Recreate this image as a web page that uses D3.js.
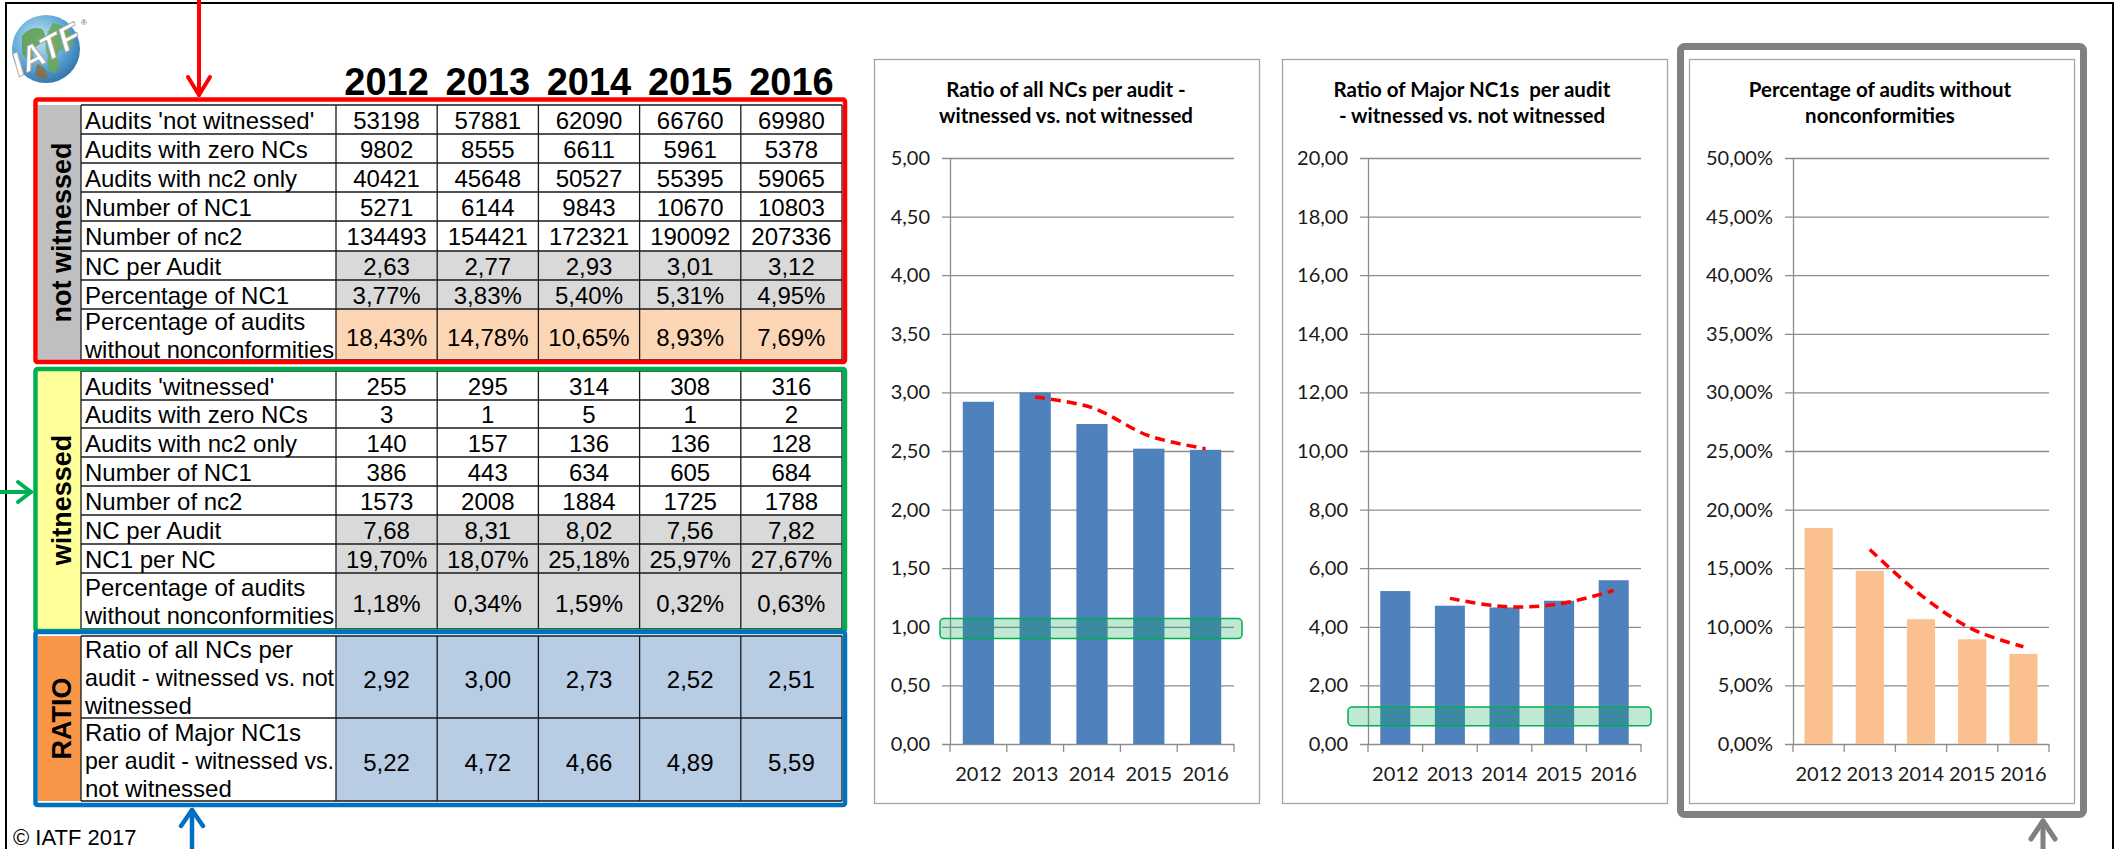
<!DOCTYPE html>
<html>
<head>
<meta charset="utf-8">
<script src="https://cdn.jsdelivr.net/npm/d3@7"></script>
<style>
  body { margin: 0; background: #fff; }
  svg { display: block; }
</style>
</head>
<body>
<div id="chart"></div>
<script>
// ---- values ----
const years = [2012, 2013, 2014, 2015, 2016];

// not witnessed audits
const nwAudits = [53198, 57881, 62090, 66760, 69980];
const nwZeroNC = [9802, 8555, 6611, 5961, 5378];
const nwNc2Only = [40421, 45648, 50527, 55395, 59065];
const nwNC1 = [5271, 6144, 9843, 10670, 10803];
const nwNc2 = [134493, 154421, 172321, 190092, 207336];
const nwNcPerAudit = [2.63, 2.77, 2.93, 3.01, 3.12];
const nwPctNC1 = [3.77, 3.83, 5.40, 5.31, 4.95];
const nwPctZero = [18.43, 14.78, 10.65, 8.93, 7.69];

// witnessed audits
const wAudits = [255, 295, 314, 308, 316];
const wZeroNC = [3, 1, 5, 1, 2];
const wNc2Only = [140, 157, 136, 136, 128];
const wNC1 = [386, 443, 634, 605, 684];
const wNc2 = [1573, 2008, 1884, 1725, 1788];
const wNcPerAudit = [7.68, 8.31, 8.02, 7.56, 7.82];
const wNC1perNC = [19.70, 18.07, 25.18, 25.97, 27.67];
const wPctZero = [1.18, 0.34, 1.59, 0.32, 0.63];

// ratios witnessed vs. not witnessed
const ratioAll = [2.92, 3.00, 2.73, 2.52, 2.51];
const ratioMajor = [5.22, 4.72, 4.66, 4.89, 5.59];

// red dashed trend lines (no value for 2012)
const ratioAllTrend = [null, 2.96, 2.87, 2.63, 2.52];
const ratioMajorTrend = [null, 4.97, 4.69, 4.78, 5.24];
const pctZeroTrend = [null, 16.6, 12.7, 9.8, 8.3];

// green highlight bands (value range) on the ratio charts
const ratioAllBand = [0.90, 1.07];
const ratioMajorBand = [0.62, 1.26];

// y axis tick values
const ratioAllTicks = [0, 0.5, 1, 1.5, 2, 2.5, 3, 3.5, 4, 4.5, 5];
const ratioMajorTicks = [0, 2, 4, 6, 8, 10, 12, 14, 16, 18, 20];
const pctTicks = [0, 5, 10, 15, 20, 25, 30, 35, 40, 45, 50];

// row labels
const nwLabels = [["Audits 'not witnessed'"], ["Audits with zero NCs"], ["Audits with nc2 only"],
  ["Number of NC1"], ["Number of nc2"], ["NC per Audit"], ["Percentage of NC1"],
  ["Percentage of audits", "without nonconformities"]];
const wLabels = [["Audits 'witnessed'"], ["Audits with zero NCs"], ["Audits with nc2 only"],
  ["Number of NC1"], ["Number of nc2"], ["NC per Audit"], ["NC1 per NC"],
  ["Percentage of audits", "without nonconformities"]];
const ratioLabels = [["Ratio of all NCs per", "audit - witnessed vs. not", "witnessed"],
  ["Ratio of Major NC1s", "per audit - witnessed vs.", "not witnessed"]];

const chartTitles = [
  ["Ratio of all NCs per audit -", "witnessed vs. not witnessed"],
  ["Ratio of Major NC1s  per audit", "- witnessed vs. not witnessed"],
  ["Percentage of audits without", "nonconformities"]
];

// ---- setup ----
const W = 2116, H = 849;
const ARIAL = "'Liberation Sans', Arial, sans-serif";
const CALIBRI = "Lato, 'Open Sans', sans-serif";

const loc = d3.formatLocale({ decimal: ",", thousands: ".", grouping: [3], currency: ["", ""] });
const fInt = d => String(d);
const f2 = loc.format(".2f");
const fPct = d => f2(d) + "%";

const svg = d3.select("#chart").append("svg")
  .attr("width", W)
  .attr("height", H);

// outer black frame (open at the bottom)
svg.append("path")
  .attr("d", `M6,${H} V3 H2113 V${H}`)
  .attr("fill", "none")
  .attr("stroke", "#000")
  .attr("stroke-width", 2);

// ---- logo ----
const logo = svg.append("g").attr("transform", "translate(46,49)");
const grad = svg.append("defs").append("radialGradient").attr("id", "globe")
  .attr("cx", "40%").attr("cy", "35%").attr("r", "70%");
grad.append("stop").attr("offset", "0%").attr("stop-color", "#c9e6f5");
grad.append("stop").attr("offset", "60%").attr("stop-color", "#5aa7d6");
grad.append("stop").attr("offset", "100%").attr("stop-color", "#2f6fa8");
logo.append("circle").attr("r", 34).attr("fill", "url(#globe)");
logo.append("path").attr("d", "M-24,-13 q9,-11 20,-7 q7,9 -2,15 q-9,4 -7,15 q-7,4 -11,-7 z")
  .attr("fill", "#5f9e4a").attr("opacity", 0.85);
logo.append("path").attr("d", "M7,-26 q13,2 20,13 q2,11 -7,13 q-7,-2 -9,7 q4,11 -2,18 q-9,-4 -7,-18 q-7,-15 5,-33 z")
  .attr("fill", "#6aa84f").attr("opacity", 0.85);
logo.append("path").attr("d", "M-9,15 q9,2 11,13 q-7,4 -13,-2 z")
  .attr("fill", "#8b6b3d").attr("opacity", 0.8);
logo.append("text")
  .attr("transform", "rotate(-28) skewX(-12)")
  .attr("text-anchor", "middle")
  .attr("y", 12)
  .attr("font-family", ARIAL)
  .attr("font-weight", "bold")
  .attr("font-size", 34)
  .attr("fill", "#fff")
  .attr("stroke", "#9a9a9a")
  .attr("stroke-width", 0.8)
  .text("IATF");
logo.append("text").attr("x", 35).attr("y", -24)
  .attr("font-size", 8).attr("font-family", ARIAL).attr("fill", "#666").text("®");

// ---- table ----
const colX = d3.scaleBand().domain(years).range([336, 842]);
const sideX0 = 38, labelX0 = 81, tableX1 = 842;
const TFONT = 24;

// year headers
svg.append("g").selectAll("text")
  .data(years)
  .join("text")
  .attr("x", d => colX(d) + colX.bandwidth() / 2)
  .attr("y", 95)
  .attr("text-anchor", "middle")
  .attr("font-family", ARIAL)
  .attr("font-weight", "bold")
  .attr("font-size", 38)
  .text(d => d);

function tableSection(rows, edges, sideLabel, sideFill) {
  const g = svg.append("g");
  const top = edges[0], bottom = edges[edges.length - 1];

  // cell fills
  rows.forEach((r, i) => {
    g.selectAll(null)
      .data(r.values)
      .join("rect")
      .attr("x", (d, j) => colX(years[j]))
      .attr("y", edges[i])
      .attr("width", colX.bandwidth())
      .attr("height", edges[i + 1] - edges[i])
      .attr("fill", r.fill);
  });

  // side column
  g.append("rect")
    .attr("x", sideX0).attr("y", top)
    .attr("width", labelX0 - sideX0).attr("height", bottom - top)
    .attr("fill", sideFill);
  g.append("text")
    .attr("transform", `translate(71,${(top + bottom) / 2}) rotate(-90)`)
    .attr("text-anchor", "middle")
    .attr("font-family", ARIAL)
    .attr("font-weight", "bold")
    .attr("font-size", 27)
    .text(sideLabel);

  // grid lines
  const grid = g.append("g").attr("stroke", "#1a1a1a").attr("stroke-width", 1.3);
  edges.forEach(e => {
    grid.append("line").attr("x1", labelX0).attr("x2", tableX1).attr("y1", e).attr("y2", e);
  });
  [labelX0, ...years.map(y => colX(y)), tableX1].forEach(x => {
    grid.append("line").attr("x1", x).attr("x2", x).attr("y1", top).attr("y2", bottom);
  });

  // labels and values
  rows.forEach((r, i) => {
    const cy = (edges[i] + edges[i + 1]) / 2;
    const n = r.label.length;
    g.append("g").selectAll("text")
      .data(r.label)
      .join("text")
      .attr("x", labelX0 + 4)
      .attr("y", (d, k) => cy + 9 + (k - (n - 1) / 2) * 28)
      .attr("font-family", ARIAL)
      .attr("font-size", TFONT)
      .text(d => d)
      .each(function () {
        // keep long labels inside their cell
        const maxW = colX(years[0]) - labelX0 - 6;
        if (this.getComputedTextLength() > maxW) {
          d3.select(this).attr("textLength", maxW).attr("lengthAdjust", "spacingAndGlyphs");
        }
      });
    g.append("g").selectAll("text")
      .data(r.values)
      .join("text")
      .attr("x", (d, j) => colX(years[j]) + colX.bandwidth() / 2)
      .attr("y", cy + 9 + (n > 1 ? 2 : 0))
      .attr("text-anchor", "middle")
      .attr("font-family", ARIAL)
      .attr("font-size", TFONT)
      .text(d => r.fmt(d))
      .each(function () {
        const maxW = colX.bandwidth() - 4;
        if (this.getComputedTextLength() > maxW) {
          d3.select(this).attr("textLength", maxW).attr("lengthAdjust", "spacingAndGlyphs");
        }
      });
  });
}

const WHITE = "#ffffff", GRAY = "#d9d9d9", PEACH = "#fcd5b4", BLUE = "#b8cce4";

tableSection([
  { label: nwLabels[0], values: nwAudits, fmt: fInt, fill: WHITE },
  { label: nwLabels[1], values: nwZeroNC, fmt: fInt, fill: WHITE },
  { label: nwLabels[2], values: nwNc2Only, fmt: fInt, fill: WHITE },
  { label: nwLabels[3], values: nwNC1, fmt: fInt, fill: WHITE },
  { label: nwLabels[4], values: nwNc2, fmt: fInt, fill: WHITE },
  { label: nwLabels[5], values: nwNcPerAudit, fmt: f2, fill: GRAY },
  { label: nwLabels[6], values: nwPctNC1, fmt: fPct, fill: GRAY },
  { label: nwLabels[7], values: nwPctZero, fmt: fPct, fill: PEACH }
], [105, 134, 163, 192, 221, 251, 280, 309, 360], "not witnessed", "#bfbfbf");

tableSection([
  { label: wLabels[0], values: wAudits, fmt: fInt, fill: WHITE },
  { label: wLabels[1], values: wZeroNC, fmt: fInt, fill: WHITE },
  { label: wLabels[2], values: wNc2Only, fmt: fInt, fill: WHITE },
  { label: wLabels[3], values: wNC1, fmt: fInt, fill: WHITE },
  { label: wLabels[4], values: wNc2, fmt: fInt, fill: WHITE },
  { label: wLabels[5], values: wNcPerAudit, fmt: f2, fill: GRAY },
  { label: wLabels[6], values: wNC1perNC, fmt: fPct, fill: GRAY },
  { label: wLabels[7], values: wPctZero, fmt: fPct, fill: GRAY }
], [371, 400, 428, 457, 486, 515, 544, 573, 629], "witnessed", "#ffff99");

tableSection([
  { label: ratioLabels[0], values: ratioAll, fmt: f2, fill: BLUE },
  { label: ratioLabels[1], values: ratioMajor, fmt: f2, fill: BLUE }
], [636, 718, 801], "RATIO", "#f79646");

// coloured section boxes
const boxes = [
  { y0: 99.5, y1: 362, color: "#ff0000" },
  { y0: 369, y1: 631, color: "#00b050" },
  { y0: 632, y1: 805, color: "#0070c0" }
];
svg.append("g").selectAll("rect")
  .data(boxes)
  .join("rect")
  .attr("x", 35.5)
  .attr("y", d => d.y0)
  .attr("width", 845 - 35.5)
  .attr("height", d => d.y1 - d.y0)
  .attr("rx", 2)
  .attr("fill", "none")
  .attr("stroke", d => d.color)
  .attr("stroke-width", 4.5);

// copyright
svg.append("text")
  .attr("x", 13).attr("y", 845)
  .attr("font-family", ARIAL)
  .attr("font-size", 22)
  .text("© IATF 2017");

// ---- arrows ----
function arrow(x1, y1, x2, y2, color, w, head, half) {
  const g = svg.append("g")
    .attr("stroke", color).attr("stroke-width", w)
    .attr("fill", "none").attr("stroke-linecap", "round").attr("stroke-linejoin", "round");
  g.append("line").attr("x1", x1).attr("y1", y1).attr("x2", x2).attr("y2", y2);
  const a = Math.atan2(y2 - y1, x2 - x1);
  const bx = x2 - head * Math.cos(a), by = y2 - head * Math.sin(a);
  const px = -Math.sin(a) * half, py = Math.cos(a) * half;
  g.append("path").attr("d", `M${bx + px},${by + py} L${x2},${y2} L${bx - px},${by - py}`);
}
arrow(199, 0, 199, 95, "#ff0000", 4, 18, 11);
arrow(0, 492, 31, 492, "#00b050", 4, 13, 10);
arrow(192, 849, 192, 810, "#0070c0", 4.5, 16, 11);
arrow(2043, 849, 2043, 821, "#808080", 5, 18, 12);

// ---- bar charts ----
function barChart(cfg) {
  const g = svg.append("g");
  const y0 = 744, y1 = 158;

  // chart frame
  g.append("rect")
    .attr("x", cfg.frame[0] + 0.5).attr("y", 59.5)
    .attr("width", cfg.frame[1] - cfg.frame[0]).attr("height", 803 - 59)
    .attr("fill", "#fff").attr("stroke", "#a6a6a6").attr("stroke-width", 1.3);

  // title
  g.append("g").selectAll("text")
    .data(cfg.title)
    .join("text")
    .attr("x", cfg.titleX)
    .attr("y", (d, i) => 97 + i * 26)
    .attr("text-anchor", "middle")
    .attr("font-family", CALIBRI)
    .attr("font-weight", "bold")
    .attr("font-size", 20.5)
    .attr("fill", "#000")
    .style("white-space", "pre")
    .text(d => d);

  const x = d3.scaleBand().domain(years).range([cfg.left, cfg.right])
    .paddingInner(0.45).paddingOuter(0.225);
  const y = d3.scaleLinear().domain([0, cfg.max]).range([y0, y1]);

  // horizontal gridlines (extend 8px left of the axis)
  const grid = g.append("g")
    .attr("transform", `translate(${cfg.left - 8},0)`)
    .call(d3.axisRight(y).tickValues(cfg.ticks).tickSize(cfg.right - cfg.left + 8).tickFormat(""));
  grid.select(".domain").remove();
  grid.selectAll("line").attr("stroke", "#8c8c8c").attr("stroke-width", 1.3);

  // y labels + axis line
  const ya = g.append("g")
    .attr("transform", `translate(${cfg.left},0)`)
    .call(d3.axisLeft(y).tickValues(cfg.ticks).tickSize(0).tickPadding(20).tickFormat(cfg.fmt));
  ya.select(".domain").attr("stroke", "#8c8c8c").attr("stroke-width", 1.3);
  ya.selectAll("text")
    .attr("font-family", CALIBRI)
    .attr("font-size", 20)
    .attr("fill", "#1a1a1a");

  // bars
  g.append("g").selectAll("rect")
    .data(cfg.values)
    .join("rect")
    .attr("x", (d, i) => x(years[i]))
    .attr("y", d => y(d))
    .attr("width", x.bandwidth())
    .attr("height", d => y0 - y(d))
    .attr("fill", cfg.color);

  // x axis: labels centred under bars, ticks at category boundaries
  const xa = g.append("g")
    .attr("transform", `translate(0,${y0})`)
    .call(d3.axisBottom(x).tickSize(0).tickPadding(23));
  xa.select(".domain").remove();
  xa.selectAll("text")
    .attr("font-family", CALIBRI)
    .attr("font-size", 20)
    .attr("fill", "#1a1a1a");
  g.append("g").selectAll("line")
    .data(d3.range(years.length + 1))
    .join("line")
    .attr("x1", i => cfg.left + i * x.step())
    .attr("x2", i => cfg.left + i * x.step())
    .attr("y1", y0)
    .attr("y2", y0 + 8)
    .attr("stroke", "#8c8c8c")
    .attr("stroke-width", 1.3);

  // green highlight band
  if (cfg.band) {
    g.append("rect")
      .attr("x", cfg.bandX[0])
      .attr("y", y(cfg.band[1]))
      .attr("width", cfg.bandX[1] - cfg.bandX[0])
      .attr("height", y(cfg.band[0]) - y(cfg.band[1]))
      .attr("rx", 4)
      .attr("fill", "#00a850")
      .attr("fill-opacity", 0.25)
      .attr("stroke", "#00b050")
      .attr("stroke-width", 1.5);
  }

  // dashed trend line
  const line = d3.line()
    .defined(d => d !== null)
    .x((d, i) => x(years[i]) + x.bandwidth() / 2)
    .y(d => y(d))
    .curve(d3.curveCatmullRom);
  g.append("path")
    .datum(cfg.trend)
    .attr("d", line)
    .attr("fill", "none")
    .attr("stroke", "#ff0000")
    .attr("stroke-width", 3.5)
    .attr("stroke-dasharray", "10,6");
}

barChart({
  frame: [874, 1259], titleX: 1066, title: chartTitles[0],
  left: 950, right: 1234, max: 5, ticks: ratioAllTicks, fmt: f2,
  values: ratioAll, trend: ratioAllTrend, color: "#4f81bd",
  band: ratioAllBand, bandX: [940, 1242]
});

barChart({
  frame: [1282, 1667], titleX: 1472, title: chartTitles[1],
  left: 1368, right: 1641, max: 20, ticks: ratioMajorTicks, fmt: f2,
  values: ratioMajor, trend: ratioMajorTrend, color: "#4f81bd",
  band: ratioMajorBand, bandX: [1348, 1651]
});

// thick grey frame around the third chart
svg.append("rect")
  .attr("x", 1680.5).attr("y", 46.5)
  .attr("width", 403).attr("height", 768)
  .attr("rx", 4)
  .attr("fill", "none")
  .attr("stroke", "#808080")
  .attr("stroke-width", 7);

barChart({
  frame: [1689, 2074], titleX: 1880, title: chartTitles[2],
  left: 1793, right: 2049, max: 50, ticks: pctTicks, fmt: fPct,
  values: nwPctZero, trend: pctZeroTrend, color: "#fac090",
  band: null
});
</script>
</body>
</html>
